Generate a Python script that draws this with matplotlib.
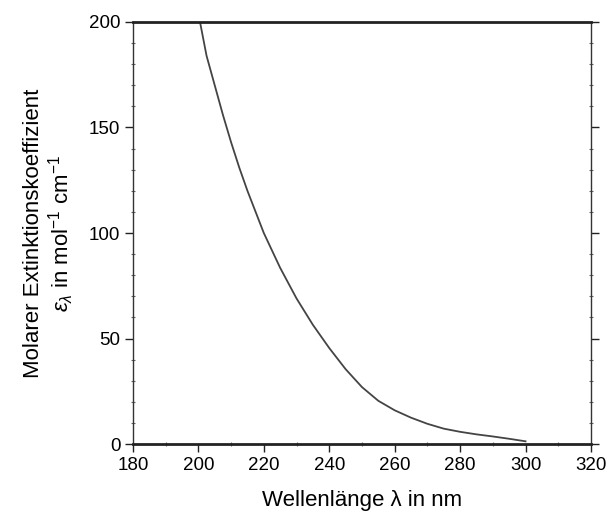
import numpy as np
import matplotlib
matplotlib.use('Agg')
import matplotlib.pyplot as plt
from matplotlib.ticker import MultipleLocator

plt.rcParams['font.family'] = ['Liberation Sans', 'DejaVu Sans']
plt.rcParams['mathtext.fontset'] = 'custom'
plt.rcParams['mathtext.rm'] = 'Liberation Sans'
plt.rcParams['mathtext.it'] = 'Liberation Sans:italic'

# wavelength in nm, molar extinction coefficient
wavelength = [200.5, 202.5, 205, 207.5, 210, 212.5, 215, 220, 225, 230, 235,
              240, 245, 250, 255, 260, 265, 270, 275, 280, 285, 290, 295, 300]
epsilon = [200, 184, 170, 156, 143, 131, 120, 100, 83.5, 69, 56.5,
           45.5, 35.5, 27, 20.5, 16, 12.5, 9.6, 7.3, 5.8, 4.6, 3.6, 2.5, 1.3]

xticks = [180, 200, 220, 240, 260, 280, 300, 320]
yticks = [0, 50, 100, 150, 200]

fig = plt.figure(figsize=(6.07, 5.11), dpi=100)
ax = fig.add_axes([0.219, 0.131, 0.7546, 0.826])

ax.plot(wavelength, epsilon, color='#444444', lw=1.3)

ax.set_xlim(180, 320)
ax.set_ylim(0, 200)
ax.set_xticks(xticks)
ax.set_yticks(yticks)
ax.xaxis.set_minor_locator(MultipleLocator(10))
ax.yaxis.set_minor_locator(MultipleLocator(10))

ax.tick_params(axis='both', which='major', direction='out', length=6,
               width=1, labelsize=13.5, pad=3, color='#222222')
ax.tick_params(axis='both', which='minor', direction='inout', length=3,
               width=0.8, color='#666666')
ax.tick_params(axis='y', which='both', right=True)

for side in ['top', 'bottom']:
    ax.spines[side].set_linewidth(2)
    ax.spines[side].set_color('#222222')
for side in ['left', 'right']:
    ax.spines[side].set_linewidth(1)
    ax.spines[side].set_color('#333333')

ax.set_xlabel('Wellenlänge λ in nm', fontsize=16, labelpad=12)
ax.set_ylabel('Molarer Extinktionskoeffizient\n'
              r'$\epsilon_\lambda$ in mol$^{-1}$ cm$^{-1}$',
              fontsize=16, labelpad=9, linespacing=1.15)

fig.savefig('out.png', dpi=100)
